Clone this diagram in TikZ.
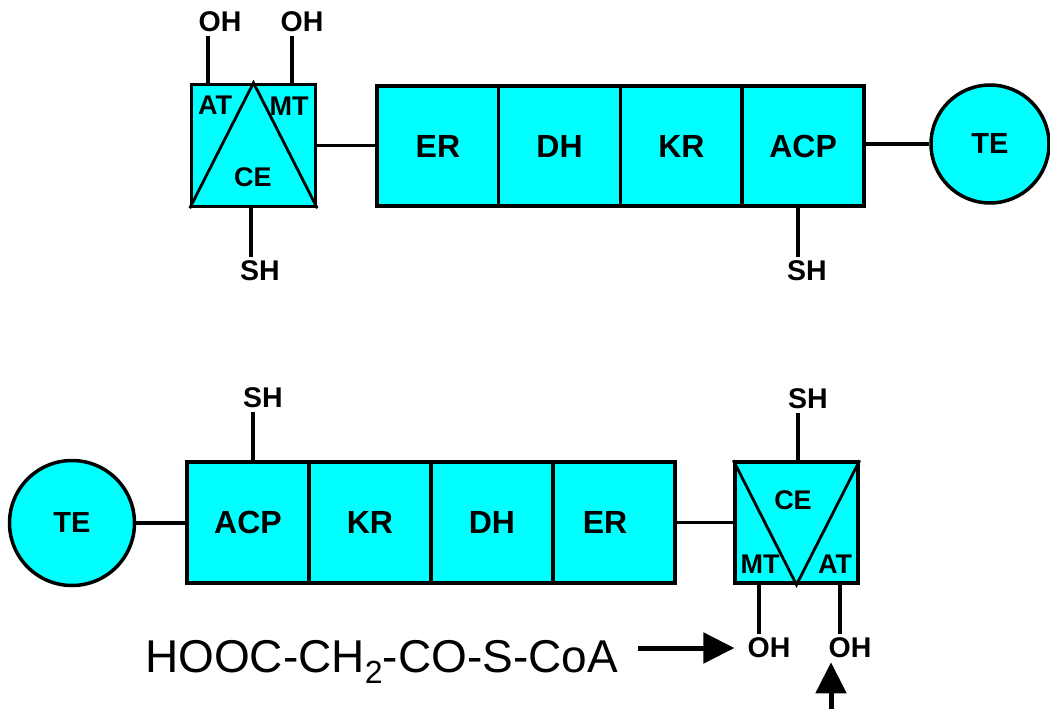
\documentclass[tikz,border=0pt]{standalone}
\usepackage{fontspec}
\setmainfont{Liberation Sans}
\usetikzlibrary{arrows.meta}
\definecolor{cy}{RGB}{0,255,255}
\begin{document}
\begin{tikzpicture}[x=1pt,y=-1pt,
  dom/.style={draw,line width=3.5pt,fill=cy,inner sep=0pt,minimum width=#1,minimum height=120pt,font=\fontsize{32}{36}\selectfont\bfseries},
  dom/.default=121.75pt,
  bigbox/.style={draw,line width=3.5pt,fill=cy,inner sep=0pt,minimum width=124pt,minimum height=122pt},
  te/.style={draw,circle,line width=3.5pt,fill=cy,inner sep=0pt,minimum size=#1,font=\fontsize{29}{32}\selectfont\bfseries},
  tri/.style={line width=2.8pt,line join=miter},
  sub/.style={inner sep=0pt,font=\fontsize{27}{30}\selectfont\bfseries},
  lab/.style={inner sep=4pt,font=\fontsize{28.5}{30}\selectfont\bfseries},
  conn/.style={line width=3.2pt},
  bigarrow/.style={line width=5pt,-{Triangle[length=31pt,width=30pt]}}
]
\useasboundingbox (0,0) rectangle (1050,709);

% ---------------- top row ----------------
\node[bigbox] (boxL) at (253.5,145.5) {};
\draw[tri] (boxL.south west) -- (boxL.north) -- (boxL.south east);
\node[sub] (atL) at (215,105) {AT};
\node[sub] (mtL) at (289,106) {MT};
\node[sub] (ceL) at (253,177) {CE};

\node[dom] (er1)  at (437.9,146) {ER};
\node[dom] (dh1)  at (559.6,146) {DH};
\node[dom] (kr1)  at (681.4,146) {KR};
\node[dom] (acp1) at (803.1,146) {ACP};
\node[te=118pt] (te1) at (990,144) {TE};

\draw[conn] (boxL.east) -- (er1.west |- boxL.east);
\draw[conn] (acp1.east |- te1.west) -- (te1.west);

\node[lab] (oh1) at (220,22) {OH};
\node[lab] (oh2) at (302,22) {OH};
\node[lab] (sh1) at (260,271) {SH};
\node[lab] (sh2) at (807,271) {SH};

\path ([xshift=-12pt]oh1.south) coordinate (s1);
\path ([xshift=-10pt]oh2.south) coordinate (s2);
\path ([xshift=-9pt]sh1.north) coordinate (s3);
\path ([xshift=-9pt]sh2.north) coordinate (s4);
\draw[conn] (s1) -- (s1 |- boxL.north);
\draw[conn] (s2) -- (s2 |- boxL.north);
\draw[conn] (s3) -- (s3 |- boxL.south);
\draw[conn] (s4) -- (s4 |- acp1.south);

% ---------------- bottom row ----------------
\node[te=125pt] (te2) at (72,523) {TE};
\node[dom=122pt,minimum height=121pt] (acp2) at (248,522.5) {ACP};
\node[dom=122pt,minimum height=121pt] (kr2)  at (370,522.5) {KR};
\node[dom=122pt,minimum height=121pt] (dh2)  at (492,522.5) {DH};
\node[dom=122pt,minimum height=121pt] (er2)  at (614,522.5) {};
\node[font=\fontsize{32}{36}\selectfont\bfseries,inner sep=0pt] (er2l) at (605,522.5) {ER};

\node[bigbox,minimum width=123pt,minimum height=121pt] (boxR) at (796.5,522.5) {};
\draw[tri] (boxR.north west) -- (boxR.south) -- (boxR.north east);
\node[sub] (ceR) at (793,500) {CE};
\node[sub] (mtR) at (760,564) {MT};
\node[sub] (atR) at (835,564) {AT};

\draw[conn] (te2.east) -- (acp2.west |- te2.east);
\draw[conn] (er2.east) -- (boxR.west);

\node[lab] (sh3) at (263,398) {SH};
\node[lab] (sh4) at (808,399) {SH};
\node[lab] (oh3) at (769,648) {OH};
\node[lab] (oh4) at (850,648) {OH};

\path ([xshift=-10pt]sh3.south) coordinate (s5);
\path ([xshift=-10pt]sh4.south) coordinate (s6);
\path ([xshift=-10pt]oh3.north) coordinate (s7);
\path ([xshift=-10pt]oh4.north) coordinate (s8);
\draw[conn] (s5) -- (s5 |- acp2.north);
\draw[conn] (s6) -- (s6 |- boxR.north);
\draw[conn] (s7) -- (s7 |- boxR.south);
\draw[conn] (s8) -- (s8 |- boxR.south);

% ---------------- substrate and arrows ----------------
\node[anchor=base west,inner sep=0pt,font=\fontsize{46}{54}\selectfont] (subs) at (145,672)
  {HOOC-CH\raisebox{-11pt}{\fontsize{32}{34}\selectfont 2}-CO-S-CoA};

\coordinate (arrS) at (638,648);
\coordinate (arrU) at (831,709);
\draw[bigarrow] (arrS) -- ([xshift=-9pt]oh3.west);
\draw[bigarrow] (arrU) -- (arrU |- oh4.south);
\end{tikzpicture}
\end{document}
